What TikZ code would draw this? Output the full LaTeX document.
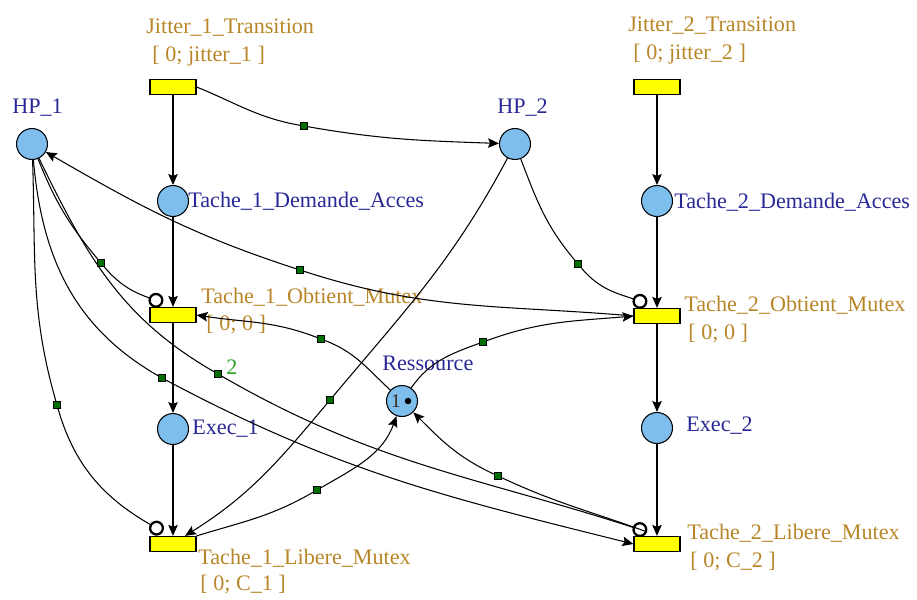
\documentclass[tikz,border=0pt]{standalone}
\usepackage{fontspec}
\setmainfont{Liberation Serif}
\usepackage{tikz}
\usetikzlibrary{arrows.meta}
\definecolor{placeblue}{RGB}{125,190,236}
\definecolor{transyellow}{RGB}{255,255,0}
\definecolor{nailgreen}{RGB}{0,110,0}
\definecolor{placetext}{RGB}{40,40,150}
\definecolor{transtext}{RGB}{184,134,40}
\definecolor{weightgreen}{RGB}{40,160,40}
\definecolor{tokentext}{RGB}{60,40,20}

\begin{document}
\begin{tikzpicture}[
  x=0.02cm,y=-0.02cm,
  every node/.style={font=\fontsize{12.6}{14}\selectfont},
  place/.style={circle,draw=black,fill=placeblue,minimum size=0.62cm,inner sep=0pt,line width=0.6pt},
  trans/.style={rectangle,draw=black,fill=transyellow,minimum width=0.92cm,minimum height=0.3cm,inner sep=0pt,line width=0.7pt},
  nail/.style={rectangle,draw=black,fill=nailgreen,minimum size=0.15cm,inner sep=0pt,line width=0.4pt},
  plabel/.style={anchor=west,inner sep=0pt,text=placetext},
  tlabel/.style={anchor=west,inner sep=0pt,text=transtext},
  flow/.style={-{Stealth[length=0.22cm,width=0.19cm,inset=0.04cm]},line width=0.6pt},
  inhib/.style={-{Circle[open,length=0.3cm,line width=1.3pt]},line width=0.6pt}
]
\useasboundingbox (0,0) rectangle (917,599);

% places
\node[place] (hp1) at (32,144) {};
\node[place] (t1da) at (173,201) {};
\node[place] (exec1) at (173,429) {};
\node[place] (hp2) at (515,144) {};
\node[place] (t2da) at (657,201) {};
\node[place] (exec2) at (657,428) {};
\node[place] (res) at (402,401) {};
\node[inner sep=0pt,text=tokentext,font=\fontsize{11}{12}\selectfont] (restok) at (396,401) {1};
\node[circle,fill=black,inner sep=0pt,minimum size=0.13cm] (resdot) at (408,401) {};

% transitions
\node[trans] (jit1) at (173,87) {};
\node[trans] (obt1) at (173,315) {};
\node[trans] (lib1) at (173,544) {};
\node[trans] (jit2) at (657,87) {};
\node[trans] (obt2) at (657,316) {};
\node[trans] (lib2) at (657,544) {};

% labels
\node[plabel] (hp1lab) at (12,108) {HP\_1};
\node[plabel] (hp2lab) at (497,108) {HP\_2};
\node[plabel] (t1dalab) at (188,201) {Tache\_1\_Demande\_Acces};
\node[plabel] (t2dalab) at (674,202) {Tache\_2\_Demande\_Acces};
\node[plabel] (exec1lab) at (192,429) {Exec\_1};
\node[plabel] (exec2lab) at (686,426) {Exec\_2};
\node[plabel] (reslab) at (382,363) {Ressource};
\node[tlabel] (jit1lab) at (146,28) {Jitter\_1\_Transition};
\node[tlabel] (jit1int) at (152,56) {[ 0; jitter\_1 ]};
\node[tlabel] (jit2lab) at (628,26) {Jitter\_2\_Transition};
\node[tlabel] (jit2int) at (633,54) {[ 0; jitter\_2 ]};
\node[tlabel] (obt1lab) at (201,297) {Tache\_1\_Obtient\_Mutex};
\node[tlabel] (obt1int) at (206,325) {[ 0; 0 ]};
\node[tlabel] (obt2lab) at (684,305) {Tache\_2\_Obtient\_Mutex};
\node[tlabel] (obt2int) at (688,334) {[ 0; 0 ]};
\node[tlabel] (lib1lab) at (198,558) {Tache\_1\_Libere\_Mutex};
\node[tlabel] (lib1int) at (200,585) {[ 0; C\_1 ]};
\node[tlabel] (lib2lab) at (687,533) {Tache\_2\_Libere\_Mutex};
\node[tlabel] (lib2int) at (690,562) {[ 0; C\_2 ]};

% arc nails
\node[nail] (njh) at (304,126) {};
\node[nail] (nio1) at (101,263) {};
\node[nail] (nil2) at (218,374) {};
\node[nail] (nhl2) at (162,378) {};
\node[nail] (nil1) at (57,405) {};
\node[nail] (noh1) at (300,270) {};
\node[nail] (nro1) at (321,339) {};
\node[nail] (nro2) at (483,342) {};
\node[nail] (nlr1) at (317,490) {};
\node[nail] (nlr2) at (498,476) {};
\node[nail] (nhl1) at (330,400) {};
\node[nail] (nio2) at (578,264) {};
\node[inner sep=0pt,text=weightgreen] (w2) at (232,367) {2};

% straight arcs
\draw[flow] (jit1) -- (t1da);
\draw[flow] (t1da) -- (obt1);
\draw[flow] (obt1) -- (exec1);
\draw[flow] (exec1) -- (lib1);
\draw[flow] (jit2) -- (t2da);
\draw[flow] (t2da) -- (obt2);
\draw[flow] (obt2) -- (exec2);
\draw[flow] (exec2) -- (lib2);

% curved arcs
\draw[flow] (jit1.east) to[out=-22,in=170] (njh) to[out=-10,in=178] (hp2);
\draw[inhib] (hp1) to[out=-68,in=130] (nio1) to[out=-50,in=160] ([xshift=-0.2cm,yshift=0.08cm]obt1.north);
\draw[inhib] (hp1) to[out=-64,in=150] (nil2) to[out=-30,in=162] ([xshift=-0.2cm,yshift=0.08cm]lib2.north);
\draw[flow] (hp1) to[out=-85,in=150] (nhl2) to[out=-28,in=166] (lib2.west);
\draw[inhib] (hp1) to[out=-88,in=106] (nil1) to[out=-74,in=150] ([xshift=-0.2cm,yshift=0.08cm]lib1.north);
\draw[flow] (obt2.west) to[out=175,in=-18] (noh1) to[out=162,in=-30] (hp1);
\draw[flow] (res) to[out=137,in=-21] (nro1) to[out=159,in=-9] (obt1.east);
\draw[flow] (res) to[out=55,in=200] (nro2) to[out=20,in=185] (obt2.west);
\draw[flow] (lib1.north east) to[out=17,in=210] (nlr1) to[out=30,in=-110] (res);
\draw[flow] ([xshift=-0.2cm,yshift=0.08cm]lib2.north) to[out=160,in=-25] (nlr2) to[out=155,in=-45] (res);
\draw[flow] (hp2) to[out=-118,in=50] (nhl1) to[out=-130,in=32] ([xshift=0.24cm]lib1.north);
\draw[inhib] (hp2) to[out=-69,in=130] (nio2) to[out=-50,in=160] ([xshift=-0.2cm,yshift=0.08cm]obt2.north);
\end{tikzpicture}
\end{document}
